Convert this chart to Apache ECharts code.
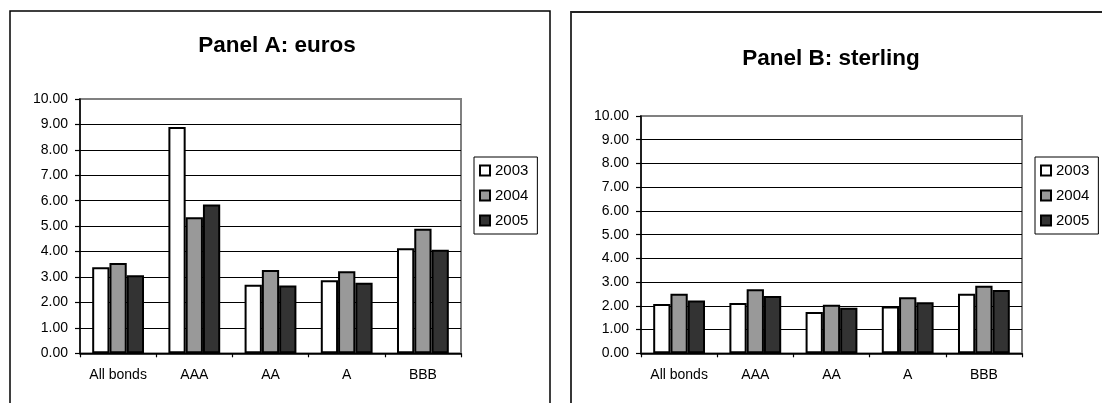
<!DOCTYPE html>
<html>
<head>
<meta charset="utf-8">
<script src="https://cdn.jsdelivr.net/npm/echarts@6/dist/echarts.min.js"></script>
<style>
html,body{margin:0;padding:0;background:#fff;}
#chart{width:1102px;height:403px;}
</style>
</head>
<body>
<div id="chart"></div>
<script>
const categories = ['All bonds', 'AAA', 'AA', 'A', 'BBB'];
const years = ['2003', '2004', '2005'];
const euros2003 = [3.38, 8.90, 2.70, 2.87, 4.13];
const euros2004 = [3.55, 5.35, 3.28, 3.23, 4.90];
const euros2005 = [3.07, 5.85, 2.67, 2.77, 4.07];
const sterling2003 = [2.08, 2.12, 1.74, 1.97, 2.51];
const sterling2004 = [2.51, 2.70, 2.05, 2.36, 2.85];
const sterling2005 = [2.23, 2.41, 1.92, 2.15, 2.67];
const yMin = 0, yMax = 10, yStep = 1;
const titles = ['Panel A: euros', 'Panel B: sterling'];

const FONT = 'Liberation Sans, Arial, sans-serif';
const fills = ['#ffffff', '#999999', '#333333'];

function xAxis(gi) {
  return {
    type: 'category', gridIndex: gi, data: categories,
    axisLine: {show: true, lineStyle: {color: '#000', width: 1.5}},
    axisTick: {show: true, length: 4, lineStyle: {color: '#000', width: 1.2}},
    axisLabel: {color: '#000', fontFamily: FONT, fontSize: 14, margin: 15},
    splitLine: {show: false}
  };
}
function yAxis(gi) {
  return {
    type: 'value', gridIndex: gi, min: yMin, max: yMax, interval: yStep,
    axisLine: {show: true, lineStyle: {color: '#000', width: 1.5}},
    axisTick: {show: true, length: 5, lineStyle: {color: '#000', width: 1.2}},
    axisLabel: {color: '#000', fontFamily: FONT, fontSize: 14, margin: 12,
      formatter: v => v.toFixed(2)},
    splitLine: {show: true, showMaxLine: false, lineStyle: {color: '#000', width: 1}}
  };
}
function bars(gi, arrs) {
  return arrs.map((d, i) => ({
    name: years[i], type: 'bar', xAxisIndex: gi, yAxisIndex: gi, data: d,
    barGap: '0%', barCategoryGap: '32%',
    itemStyle: {color: fills[i], borderColor: '#000', borderWidth: 2},
    emphasis: {disabled: true}
  }));
}
function legend(left, top) {
  return {
    data: years, orient: 'vertical', left: left, top: top,
    icon: 'rect', itemWidth: 10, itemHeight: 10, itemGap: 10,
    padding: [6, 9, 6, 5],
    borderColor: '#000', borderWidth: 1,
    itemStyle: {borderWidth: 2, borderColor: '#000'},
    textStyle: {color: '#000', fontFamily: FONT, fontSize: 15},
    selectedMode: false
  };
}

const chart = echarts.init(document.getElementById('chart'), null, {renderer: 'canvas'});
chart.setOption({
  backgroundColor: '#fff',
  animation: false,
  title: [
    {text: titles[0], left: 277, top: 34, textAlign: 'center', padding: 0,
      textStyle: {fontFamily: FONT, fontSize: 22.5, fontWeight: 'bold', color: '#000'}},
    {text: titles[1], left: 831, top: 47, textAlign: 'center', padding: 0,
      textStyle: {fontFamily: FONT, fontSize: 22.5, fontWeight: 'bold', color: '#000'}}
  ],
  grid: [
    {left: 80, top: 99, width: 381, height: 254.3, show: true, borderColor: '#808080', borderWidth: 2, backgroundColor: 'transparent'},
    {left: 641, top: 116, width: 381, height: 237.3, show: true, borderColor: '#808080', borderWidth: 2, backgroundColor: 'transparent'}
  ],
  legend: [legend(474, 157), legend(1035, 157)],
  xAxis: [xAxis(0), xAxis(1)],
  yAxis: [yAxis(0), yAxis(1)],
  series: bars(0, [euros2003, euros2004, euros2005]).concat(bars(1, [sterling2003, sterling2004, sterling2005])),
  graphic: [
    {type: 'rect', shape: {x: 10, y: 11, width: 540, height: 430}, style: {fill: 'none', stroke: '#000', lineWidth: 1.5}, silent: true},
    {type: 'rect', shape: {x: 571, y: 12, width: 560, height: 430}, style: {fill: 'none', stroke: '#222', lineWidth: 1.8}, silent: true}
  ]
});
</script>
</body>
</html>
